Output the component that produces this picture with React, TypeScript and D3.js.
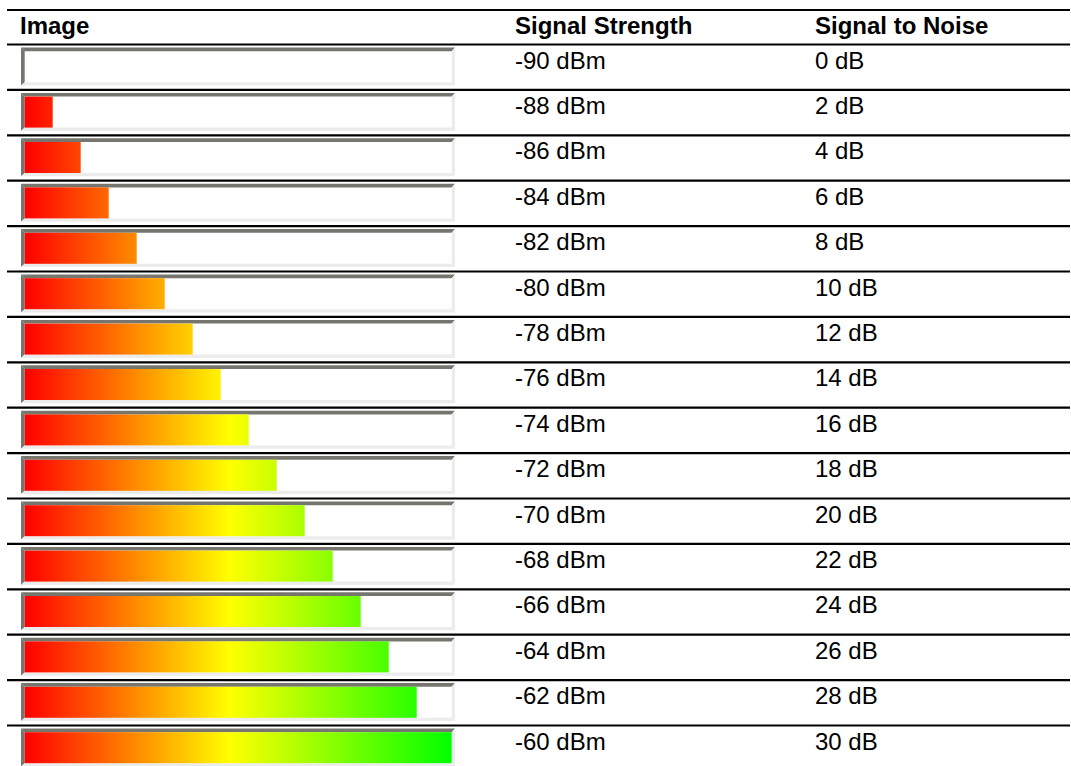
import React from "react";
import * as d3 from "d3";

const headers = ["Image", "Signal Strength", "Signal to Noise"];
const signalStrength = [-90, -88, -86, -84, -82, -80, -78, -76, -74, -72, -70, -68, -66, -64, -62, -60];
const signalToNoise = [0, 2, 4, 6, 8, 10, 12, 14, 16, 18, 20, 22, 24, 26, 28, 30];
const gradientStops = [
  { offset: 0, color: "#ff0000" },
  { offset: 0.48, color: "#ffff00" },
  { offset: 1, color: "#00ff00" },
];

const W = 1071;
const H = 766;
const FONT = "'Liberation Sans', Arial, Helvetica, sans-serif";

export default function App() {
  const tableLeft = 7;
  const tableRight = 1070;
  const topLine = 10;
  const headerLine = 44.5;
  const rowH = 45.4;
  const colX = [20, 515, 815];

  const rowY = d3
    .scaleLinear()
    .domain([0, signalStrength.length])
    .range([headerLine, headerLine + rowH * signalStrength.length]);

  // bar frame geometry
  const fx0 = 21;
  const fx1 = 455;
  const bt = 3.7; // top/left dark border
  const bb = 3.3; // bottom/right light border
  const innerX0 = fx0 + bt;
  const innerX1 = fx1 - bb;
  // calibrated: 14 px per dB, full inner width at the maximum
  const x = d3
    .scaleLinear()
    .domain([0, 28, 30])
    .range([0, 392, innerX1 - innerX0])
    .clamp(true);

  const frame = (y0: number, y1: number, key: number) => {
    const pts = (a: number[][]) => a.map((p) => p.join(",")).join(" ");
    return (
      <g key={"f" + key}>
        <rect x={fx0} y={y0} width={fx1 - fx0} height={y1 - y0} fill="#ffffff" />
        <polygon
          points={pts([[fx0, y0], [fx1, y0], [fx1 - bb, y0 + bt], [fx0 + bt, y0 + bt]])}
          fill="#76766e"
        />
        <polygon
          points={pts([[fx0, y0], [fx0 + bt, y0 + bt], [fx0 + bt, y1 - bb], [fx0, y1]])}
          fill="#76766e"
        />
        <polygon
          points={pts([[fx0, y1], [fx0 + bt, y1 - bb], [fx1 - bb, y1 - bb], [fx1, y1]])}
          fill="#ececec"
        />
        <polygon
          points={pts([[fx1, y0], [fx1, y1], [fx1 - bb, y1 - bb], [fx1 - bb, y0 + bt]])}
          fill="#ececec"
        />
      </g>
    );
  };

  return (
    <svg
      width={W}
      height={H}
      style={{ position: "absolute", left: 0, top: 0, background: "#ffffff" }}
      fontFamily={FONT}
    >
      <defs>
        <linearGradient
          id="sigGrad"
          gradientUnits="userSpaceOnUse"
          x1={innerX0}
          x2={innerX1}
          y1={0}
          y2={0}
        >
          {gradientStops.map((s) => (
            <stop key={s.offset} offset={s.offset} stopColor={s.color} />
          ))}
        </linearGradient>
      </defs>
      <rect x={0} y={0} width={W} height={H} fill="#ffffff" />

      {/* header */}
      <line x1={tableLeft} x2={tableRight} y1={topLine} y2={topLine} stroke="#000" strokeWidth={2.2} />
      {headers.map((h, i) => (
        <text key={h} x={colX[i]} y={topLine + 24} fontSize={24} fontWeight="bold" fill="#000">
          {h}
        </text>
      ))}

      {signalStrength.map((s, i) => {
        const L = rowY(i);
        const y0 = L + 3;
        const y1 = L + 41;
        return (
          <g key={i}>
            <line x1={tableLeft} x2={tableRight} y1={L} y2={L} stroke="#000" strokeWidth={2.2} />
            {frame(y0, y1, i)}
            <rect
              x={innerX0}
              y={y0 + bt}
              width={x(signalToNoise[i])}
              height={y1 - bb - (y0 + bt)}
              fill="url(#sigGrad)"
            />
            <text x={colX[1]} y={L + 24} fontSize={24} fill="#000">
              {`${s} dBm`}
            </text>
            <text x={colX[2]} y={L + 24} fontSize={24} fill="#000">
              {`${signalToNoise[i]} dB`}
            </text>
          </g>
        );
      })}
    </svg>
  );
}
